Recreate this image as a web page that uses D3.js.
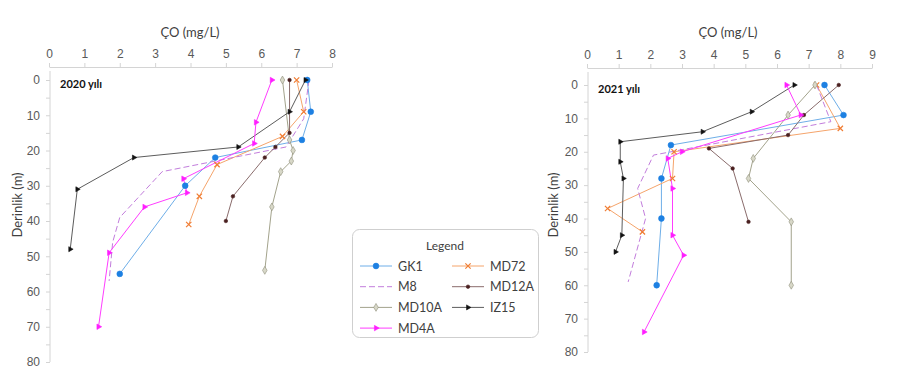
<!DOCTYPE html>
<html>
<head>
<meta charset="utf-8">
<script src="https://cdn.jsdelivr.net/npm/d3@7"></script>
<style>
    body { margin: 0; background: #fff; }
    svg { display: block; font-family: Lato, "Open Sans", sans-serif; }
    .axis path, .axis line { stroke: #d4d4d4; }
    .axis text { fill: #595959; font-size: 12px; }
</style>
</head>
<body>
<div id="chart"></div>
<script>
(function(d3) {
    'use strict';

    // Values as [depth (m), DO (mg/L)]
    var gk1_2020 = [[0, 7.3], [9, 7.4], [17, 7.15], [22, 4.7], [30, 3.85], [55, 2.0]];
    var md72_2020 = [[0, 7.0], [9, 7.2], [16, 6.6], [24, 4.75], [33, 4.25], [41, 3.95]];
    var m8_2020 = [[0, 7.35], [11, 7.2], [19, 6.7], [26, 3.2], [39, 2.0], [46, 1.8], [57, 1.7]];
    var md12a_2020 = [[0, 6.8], [15, 6.8], [19, 6.4], [22, 6.1], [33, 5.2], [40, 5.0]];
    var md10a_2020 = [[0, 6.6], [17, 6.8], [20, 6.9], [23, 6.85], [26, 6.55], [36, 6.3], [54, 6.1]];
    var iz15_2020 = [[0, 7.25], [9, 6.8], [19, 5.35], [22, 2.4], [31, 0.8], [48, 0.6]];
    var md4a_2020 = [[0, 6.3], [12, 5.85], [18, 5.8], [28, 3.8], [32, 3.9], [36, 2.7], [49, 1.7], [70, 1.4]];

    var gk1_2021 = [[0, 7.5], [9, 8.1], [18, 2.65], [28, 2.35], [40, 2.35], [60, 2.2]];
    var md72_2021 = [[0, 7.25], [13, 8.0], [20, 2.75], [28, 2.7], [37, 0.65], [44, 1.75]];
    var m8_2021 = [[0, 7.25], [11, 7.7], [21, 2.1], [31, 1.6], [40, 1.85], [59, 1.3]];
    var md12a_2021 = [[0, 7.95], [9, 6.85], [15, 6.35], [19, 3.85], [25, 4.6], [41, 5.1]];
    var md10a_2021 = [[0, 7.2], [9, 6.35], [22, 5.25], [28, 5.1], [41, 6.45], [60, 6.45]];
    var iz15_2021 = [[0, 6.55], [8, 5.2], [14, 3.65], [17, 1.05], [23, 1.05], [28, 1.15], [45, 1.1], [50, 0.9]];
    var md4a_2021 = [[0, 6.3], [9, 6.75], [20, 3.0], [22, 2.55], [31, 2.7], [45, 2.7], [51, 3.05], [74, 1.8]];

    var seriesNames = ['GK1', 'MD72', 'M8', 'MD12A', 'MD10A', 'IZ15', 'MD4A'];
    var xTicks2020 = [0, 1, 2, 3, 4, 5, 6, 7, 8];
    var xTicks2021 = [0, 1, 2, 3, 4, 5, 6, 7, 8, 9];
    var depthTicks = [0, 10, 20, 30, 40, 50, 60, 70, 80];

    // Series styles
    var styles = {
        GK1: {line: '#6eaee8', marker: 'circle', fill: '#1d80e2', stroke: '#1d80e2', size: 26},
        MD72: {line: '#f5a46b', marker: 'times', fill: 'none', stroke: '#f07d34', size: 20},
        M8: {line: '#c27ddc', marker: null, dash: '6,3'},
        MD12A: {line: '#8a6c6c', marker: 'circle', fill: '#4a2020', stroke: '#4a2020', size: 10},
        MD10A: {line: '#a3a38c', marker: 'diamond', fill: '#d8d8c8', stroke: '#8f8f7a', size: 18},
        IZ15: {line: '#5c5c5c', marker: 'triangle', fill: '#111', stroke: '#111', size: 11},
        MD4A: {line: '#ff3cff', marker: 'triangle', fill: '#ff1eff', stroke: '#ff1eff', size: 13}
    };

    var symbolTypes = {
        circle: d3.symbolCircle,
        times: d3.symbolTimes,
        diamond: d3.symbolDiamond,
        triangle: d3.symbolTriangle
    };

    var panels = [
        {
            year: '2020 yılı', xMax: 8, xTicks: xTicks2020,
            left: 49, right: 332, top: 80, bottom: 362, axisY: 67,
            yLabelX: 22, yLabelY: 205, titleX: 190,
            data: {GK1: gk1_2020, MD72: md72_2020, M8: m8_2020, MD12A: md12a_2020,
                MD10A: md10a_2020, IZ15: iz15_2020, MD4A: md4a_2020}
        },
        {
            year: '2021 yılı', xMax: 9, xTicks: xTicks2021,
            left: 587, right: 872, top: 85, bottom: 352, axisY: 68,
            yLabelX: 558, yLabelY: 205, titleX: 728,
            data: {GK1: gk1_2021, MD72: md72_2021, M8: m8_2021, MD12A: md12a_2021,
                MD10A: md10a_2021, IZ15: iz15_2021, MD4A: md4a_2021}
        }
    ];

    var svg = d3.select('#chart').append('svg')
        .attr('width', 906)
        .attr('height', 374);

    function drawMarker(g, st, x, y) {
        if (!st.marker) {
            return;
        }
        var rot = st.marker === 'triangle' ? 90 : 0;
        g.append('path')
            .attr('d', d3.symbol().type(symbolTypes[st.marker]).size(st.size)())
            .attr('transform', 'translate(' + x + ',' + y + ') rotate(' + rot + ')')
            .attr('fill', st.fill)
            .attr('stroke', st.stroke)
            .attr('stroke-width', st.marker === 'times' ? 1.2 : 0.6);
    }

    panels.forEach(function(p) {
        var x = d3.scaleLinear().domain([0, p.xMax]).range([p.left, p.right]);
        var y = d3.scaleLinear().domain([0, 80]).range([p.top, p.bottom]);

        // Top axis
        svg.append('g')
            .attr('class', 'axis')
            .attr('transform', 'translate(0,' + p.axisY + ')')
            .call(d3.axisTop(x).tickValues(p.xTicks).tickSize(4).tickSizeOuter(0).tickPadding(5));

        // Left axis, ticks every 5 m, labels every 10 m
        var yAxis = svg.append('g')
            .attr('class', 'axis')
            .attr('transform', 'translate(' + (p.left + 1) + ',0)')
            .call(d3.axisLeft(y)
                .tickValues(d3.range(0, 81, 5))
                .tickSize(4).tickSizeOuter(0).tickPadding(6)
                .tickFormat(function(d) { return depthTicks.indexOf(d) >= 0 ? d : ''; }));
        yAxis.select('.domain')
            .attr('d', 'M0,' + (p.axisY + 4) + 'V' + p.bottom);

        // Axis titles
        svg.append('text')
            .attr('x', p.titleX)
            .attr('y', 37)
            .attr('text-anchor', 'middle')
            .attr('fill', '#404040')
            .style('font-size', '13px')
            .text('ÇO (mg/L)');

        svg.append('text')
            .attr('transform', 'translate(' + p.yLabelX + ',' + p.yLabelY + ') rotate(-90)')
            .attr('text-anchor', 'middle')
            .attr('fill', '#404040')
            .style('font-size', '13px')
            .text('Derinlik (m)');

        svg.append('text')
            .attr('x', p.left + 11)
            .attr('y', p.top + 8)
            .attr('fill', '#111')
            .style('font-size', '11px')
            .style('font-weight', 'bold')
            .text(p.year);

        var line = d3.line()
            .x(function(d) { return x(d[1]); })
            .y(function(d) { return y(d[0]); });

        var plot = svg.append('g');

        seriesNames.forEach(function(name) {
            var st = styles[name];
            plot.append('path')
                .datum(p.data[name])
                .attr('d', line)
                .attr('fill', 'none')
                .attr('stroke', st.line)
                .attr('stroke-width', 1)
                .attr('stroke-dasharray', st.dash || null);
        });

        seriesNames.forEach(function(name) {
            var st = styles[name];
            p.data[name].forEach(function(d) {
                drawMarker(plot, st, x(d[1]), y(d[0]));
            });
        });
    });

    // Legend
    var legend = svg.append('g');
    legend.append('rect')
        .attr('x', 352.5).attr('y', 229.5)
        .attr('width', 186).attr('height', 108)
        .attr('rx', 7)
        .attr('fill', '#fff')
        .attr('stroke', '#cfcfcf');
    legend.append('text')
        .attr('x', 445).attr('y', 250)
        .attr('text-anchor', 'middle')
        .attr('fill', '#404040')
        .style('font-size', '12px')
        .text('Legend');

    seriesNames.forEach(function(name, i) {
        var col = i % 2,
            row = Math.floor(i / 2);
        var lx = col === 0 ? 360 : 452,
            ly = 266 + row * 20.7;
        var st = styles[name];
        legend.append('line')
            .attr('x1', lx).attr('x2', lx + 32)
            .attr('y1', ly).attr('y2', ly)
            .attr('stroke', st.line)
            .attr('stroke-width', 1)
            .attr('stroke-dasharray', st.dash || null);
        drawMarker(legend, st, lx + 16, ly);
        legend.append('text')
            .attr('x', lx + 38).attr('y', ly + 4.5)
            .attr('fill', '#404040')
            .style('font-size', '12.5px')
            .text(name);
    });
}(d3));
</script>
</body>
</html>
